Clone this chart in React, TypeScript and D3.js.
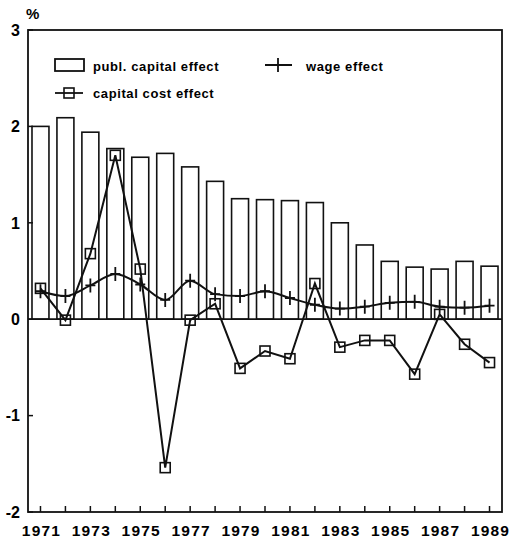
import React, { useEffect, useRef } from 'react';
import * as d3 from 'd3';

const years = [1971, 1972, 1973, 1974, 1975, 1976, 1977, 1978, 1979, 1980, 1981, 1982, 1983, 1984, 1985, 1986, 1987, 1988, 1989];
const publCapital = [2.0, 2.09, 1.94, 1.77, 1.68, 1.72, 1.58, 1.43, 1.25, 1.24, 1.23, 1.21, 1.0, 0.77, 0.6, 0.54, 0.52, 0.6, 0.55];
const capitalCost = [0.32, -0.01, 0.68, 1.7, 0.52, -1.54, -0.01, 0.16, -0.51, -0.33, -0.41, 0.37, -0.29, -0.22, -0.22, -0.57, 0.05, -0.26, -0.45];
const wage = [0.29, 0.24, 0.35, 0.47, 0.36, 0.2, 0.4, 0.26, 0.24, 0.29, 0.22, 0.15, 0.11, 0.13, 0.17, 0.18, 0.13, 0.12, 0.14];
const yTicks = [-2, -1, 0, 1, 2, 3];
const xLabels = [1971, 1973, 1975, 1977, 1979, 1981, 1983, 1985, 1987, 1989];

const W = 510;
const H = 539;
const FONT = 'Liberation Sans, Arial, sans-serif';

export default function App() {
  const svgRef = useRef<SVGSVGElement>(null);

  useEffect(() => {
    if (!svgRef.current) return;
    const svg = d3.select(svgRef.current);
    svg.selectAll('*').remove();

    const left = 28, right = 502, top = 30, bottom = 512;

    const x = d3.scaleBand<number>()
      .domain(years)
      .range([left, right])
      .paddingInner(0.32)
      .paddingOuter(0.16);
    const cx = (yr: number) => (x(yr) || 0) + x.bandwidth() / 2;
    const y = d3.scaleLinear().domain([-2, 3]).range([bottom, top]);

    const g = svg.append('g');

    // bars
    g.selectAll('.bar')
      .data(years)
      .enter().append('rect')
      .attr('x', d => x(d) || 0)
      .attr('width', x.bandwidth())
      .attr('y', (d, i) => y(publCapital[i]))
      .attr('height', (d, i) => y(0) - y(publCapital[i]))
      .attr('fill', '#fff')
      .attr('stroke', '#111')
      .attr('stroke-width', 1.6);

    // zero line
    g.append('line')
      .attr('x1', left).attr('x2', right)
      .attr('y1', y(0)).attr('y2', y(0))
      .attr('stroke', '#111').attr('stroke-width', 1.8);

    // frame
    g.append('rect')
      .attr('x', left).attr('y', top)
      .attr('width', right - left).attr('height', bottom - top)
      .attr('fill', 'none').attr('stroke', '#111').attr('stroke-width', 1.8);

    // y ticks (inward)
    g.selectAll('.ytick')
      .data(yTicks)
      .enter().append('line')
      .attr('x1', left).attr('x2', left + 5)
      .attr('y1', d => y(d)).attr('y2', d => y(d))
      .attr('stroke', '#111').attr('stroke-width', 1.5);

    g.selectAll('.ylabel')
      .data(yTicks)
      .enter().append('text')
      .attr('x', 20)
      .attr('y', d => y(d))
      .attr('dy', '0.36em')
      .attr('text-anchor', 'end')
      .style('font-family', FONT)
      .style('font-weight', 'bold')
      .style('font-size', '16px')
      .text(d => (d < 0 ? '-' + Math.abs(d) : String(d)));

    g.append('text')
      .attr('x', 26).attr('y', 19)
      .style('font-family', FONT)
      .style('font-weight', 'bold')
      .style('font-size', '15px')
      .text('%');

    // x ticks (inward)
    g.selectAll('.xtick')
      .data(years)
      .enter().append('line')
      .attr('x1', d => cx(d)).attr('x2', d => cx(d))
      .attr('y1', bottom).attr('y2', bottom - 6)
      .attr('stroke', '#111').attr('stroke-width', 1.5);

    g.selectAll('.xlabel')
      .data(xLabels)
      .enter().append('text')
      .attr('x', d => cx(d) + 1)
      .attr('y', 536)
      .attr('text-anchor', 'middle')
      .style('font-family', FONT)
      .style('font-weight', 'bold')
      .style('font-size', '15.5px')
      .style('letter-spacing', '1.2px')
      .text(d => String(d));

    // capital cost effect
    const costLine = d3.line<number>()
      .x((d, i) => cx(years[i]))
      .y(d => y(d));
    g.append('path')
      .datum(capitalCost)
      .attr('d', costLine)
      .attr('fill', 'none')
      .attr('stroke', '#111')
      .attr('stroke-width', 2);
    g.selectAll('.sq')
      .data(capitalCost)
      .enter().append('rect')
      .attr('x', (d, i) => cx(years[i]) - 5)
      .attr('y', d => y(d) - 5)
      .attr('width', 10).attr('height', 10)
      .attr('fill', 'none')
      .attr('stroke', '#111')
      .attr('stroke-width', 1.6);

    // wage effect
    const wageLine = d3.line<number>()
      .x((d, i) => cx(years[i]))
      .y(d => y(d))
      .curve(d3.curveMonotoneX);
    g.append('path')
      .datum(wage)
      .attr('d', wageLine)
      .attr('fill', 'none')
      .attr('stroke', '#111')
      .attr('stroke-width', 2);
    g.selectAll('.plus')
      .data(wage)
      .enter().append('path')
      .attr('d', (d, i) => {
        const px = cx(years[i]), py = y(d);
        return `M${px},${py - 7}V${py + 7}M${px - 5},${py}H${px + 5}`;
      })
      .attr('stroke', '#111')
      .attr('stroke-width', 1.8);

    // legend
    const lg = g.append('g');
    const legendText = (tx: number, ty: number, label: string) =>
      lg.append('text')
        .attr('x', tx).attr('y', ty)
        .style('font-family', FONT).style('font-weight', 'bold')
        .style('font-size', '13px').style('letter-spacing', '0.6px')
        .text(label);

    lg.append('rect')
      .attr('x', 55).attr('y', 59).attr('width', 29).attr('height', 12)
      .attr('fill', '#fff').attr('stroke', '#111').attr('stroke-width', 1.8);
    legendText(93, 71, 'publ. capital effect');

    lg.append('line')
      .attr('x1', 55).attr('x2', 83).attr('y1', 93).attr('y2', 93)
      .attr('stroke', '#111').attr('stroke-width', 1.8);
    lg.append('rect')
      .attr('x', 64).attr('y', 88).attr('width', 10).attr('height', 10)
      .attr('fill', 'none').attr('stroke', '#111').attr('stroke-width', 1.6);
    legendText(93, 98, 'capital cost effect');

    lg.append('path')
      .attr('d', 'M265,65H292M278,58V72')
      .attr('stroke', '#111').attr('stroke-width', 1.8);
    legendText(306, 71, 'wage effect');
  }, []);

  return (
    <svg
      ref={svgRef}
      width={W}
      height={H}
      viewBox={`0 0 ${W} ${H}`}
      style={{ position: 'absolute', left: 0, top: 0, background: '#fff' }}
    />
  );
}
